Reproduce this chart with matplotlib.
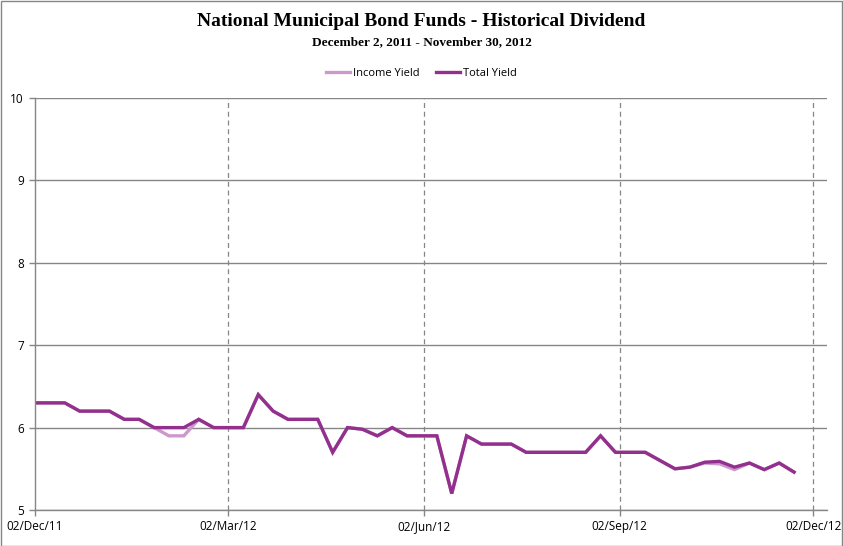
import matplotlib
matplotlib.use("Agg")
import matplotlib.pyplot as plt
import matplotlib.dates as mdates
import numpy as np
import datetime as dt

start = dt.date(2011, 12, 2)
dates = [start + dt.timedelta(days=7 * i) for i in range(52)]

total_yield = [6.3, 6.3, 6.3, 6.2, 6.2, 6.2, 6.1, 6.1, 6.0, 6.0,
               6.0, 6.1, 6.0, 6.0, 6.0, 6.4, 6.2, 6.1, 6.1, 6.1,
               5.7, 6.0, 5.98, 5.9, 6.0, 5.9, 5.9, 5.9, 5.2, 5.9,
               5.8, 5.8, 5.8, 5.7, 5.7, 5.7, 5.7, 5.7, 5.9, 5.7,
               5.7, 5.7, 5.6, 5.5, 5.52, 5.58, 5.59, 5.52, 5.57, 5.49,
               5.57, 5.46]
income_yield = [6.3, 6.3, 6.3, 6.2, 6.2, 6.2, 6.1, 6.1, 6.0, 5.9,
                5.9, 6.1, 6.0, 6.0, 6.0, 6.4, 6.2, 6.1, 6.1, 6.1,
                5.7, 6.0, 5.98, 5.9, 6.0, 5.9, 5.9, 5.9, 5.2, 5.9,
                5.8, 5.8, 5.8, 5.7, 5.7, 5.7, 5.7, 5.7, 5.9, 5.7,
                5.7, 5.7, 5.6, 5.5, 5.52, 5.57, 5.56, 5.49, 5.57, 5.49,
                5.57, 5.46]

x_ticks = [dt.date(2011, 12, 2), dt.date(2012, 3, 2), dt.date(2012, 6, 2),
           dt.date(2012, 9, 2), dt.date(2012, 12, 2)]
x_tick_labels = ["02/Dec/11", "02/Mar/12", "02/Jun/12", "02/Sep/12", "02/Dec/12"]
y_ticks = [5, 6, 7, 8, 9, 10]

fig = plt.figure(figsize=(8.43, 5.46), dpi=100)
ax = fig.add_axes([35 / 843, 1 - 510 / 546, (827 - 35) / 843, (510 - 98) / 546])

grid_c = "#868686"
ax.plot(dates, income_yield, color="#CC99CC", lw=2.4, label="Income Yield", solid_joinstyle="miter")
ax.plot(dates, total_yield, color="#93308E", lw=2.4, label="Total Yield", solid_joinstyle="miter")

ax.set_ylim(5, 10)
ax.set_xlim(mdates.date2num(start), mdates.date2num(start) + 372.5)
ax.set_yticks(y_ticks)
ax.set_xticks([mdates.date2num(d) for d in x_ticks])
ax.set_xticklabels(x_tick_labels)

for y in y_ticks:
    ax.axhline(y, color=grid_c, lw=1, zorder=0)
for d in x_ticks[1:]:
    ax.axvline(mdates.date2num(d), color=grid_c, lw=0.9, ls=(0, (4, 3)), zorder=0)

for s in ["top", "right"]:
    ax.spines[s].set_visible(False)
for s in ["left", "bottom"]:
    ax.spines[s].set_color(grid_c)
    ax.spines[s].set_linewidth(1)

ax.tick_params(axis="both", colors=grid_c, labelcolor="black", labelsize=8.5, length=4, width=1)
ax.tick_params(axis="y", pad=4)
for lab in ax.get_xticklabels() + ax.get_yticklabels():
    lab.set_fontfamily(["Open Sans", "DejaVu Sans"])

fig.text(0.5, 1 - 22 / 546, "National Municipal Bond Funds - Historical Dividend",
         ha="center", va="center", fontsize=14, fontweight="bold", family="Liberation Serif")
fig.text(0.5, 1 - 42 / 546, "December 2, 2011 - November 30, 2012",
         ha="center", va="center", fontsize=9.5, fontweight="bold", family="Liberation Serif")

leg = fig.legend(loc="center", bbox_to_anchor=(0.5, 1 - 73 / 546), ncol=2, frameon=False,
                 handlelength=2.2, handletextpad=0.3, columnspacing=1.4,
                 prop={"family": "Open Sans", "size": 8})

fig.add_artist(plt.Rectangle((0.5 / 843, 0.5 / 546), 1 - 1.5 / 843, 1 - 1.5 / 546,
                             transform=fig.transFigure, fill=False, edgecolor=grid_c, lw=1))

fig.savefig("out.png", dpi=100)
